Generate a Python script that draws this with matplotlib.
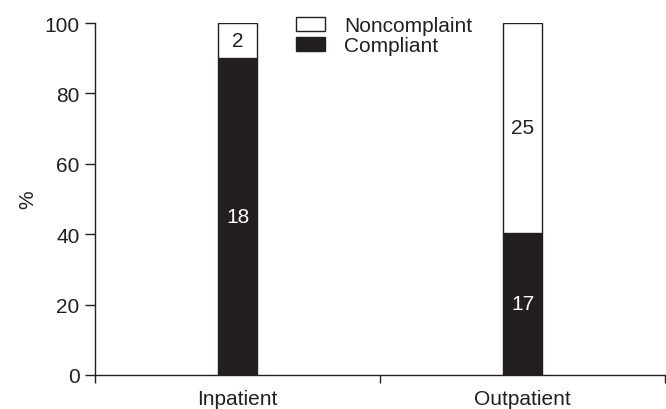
import matplotlib.pyplot as plt
import numpy as np

plt.rcParams['font.family'] = ['Liberation Sans', 'DejaVu Sans']

groups = ['Inpatient', 'Outpatient']
compliant = [18, 17]
noncompliant = [2, 25]

comp = np.array(compliant, dtype=float)
nonc = np.array(noncompliant, dtype=float)
total = comp + nonc
comp_pct = comp / total * 100
nonc_pct = nonc / total * 100

dark = '#231f20'
fs = 15

fig = plt.figure(figsize=(6.66, 4.10), dpi=100)
ax = fig.add_axes([95/666, 1 - 376/410, 570/666, 352/410])

x = np.arange(len(groups))
w = 0.135
b1 = ax.bar(x, comp_pct, w, color=dark, edgecolor=dark, linewidth=1, label='Compliant')
b2 = ax.bar(x, nonc_pct, w, bottom=comp_pct, color='white', edgecolor=dark, linewidth=1,
            label='Noncomplaint')

for i in range(len(groups)):
    ax.text(x[i], comp_pct[i] / 2, str(compliant[i]), ha='center', va='center',
            color='white', fontsize=fs)
    ax.text(x[i], comp_pct[i] + nonc_pct[i] / 2, str(noncompliant[i]), ha='center',
            va='center', color=dark, fontsize=fs)

ax.set_xlim(-0.5, len(groups) - 0.5)
ax.set_ylim(0, 100)
ax.set_yticks([0, 20, 40, 60, 80, 100])
ax.set_xticks(np.arange(-0.5, len(groups)))
ax.set_xticklabels([])
ax.set_xticks(x, minor=True)
ax.set_xticklabels(groups, minor=True)
ax.tick_params(axis='x', which='minor', length=0, pad=10, labelsize=fs, colors=dark)
ax.tick_params(axis='x', which='major', length=6, width=1, direction='out', color=dark)
ax.tick_params(axis='y', length=7, width=1, direction='out', labelsize=fs, colors=dark, pad=4)

for s in ['top', 'right']:
    ax.spines[s].set_visible(False)
for s in ['left', 'bottom']:
    ax.spines[s].set_color(dark)
    ax.spines[s].set_linewidth(1)

ax.set_ylabel('%', fontsize=fs, color=dark, labelpad=5)

leg = ax.legend(handles=[b2, b1], labels=['Noncomplaint', 'Compliant'],
                loc='upper left', bbox_to_anchor=(294/666, 1 - 15/410),
                bbox_transform=fig.transFigure, frameon=False, fontsize=fs,
                handlelength=1.4, handleheight=0.63, handletextpad=0.9,
                labelspacing=0.05, borderpad=0.1, borderaxespad=0)
for t in leg.get_texts():
    t.set_color(dark)

fig.savefig('out.png', dpi=100)
